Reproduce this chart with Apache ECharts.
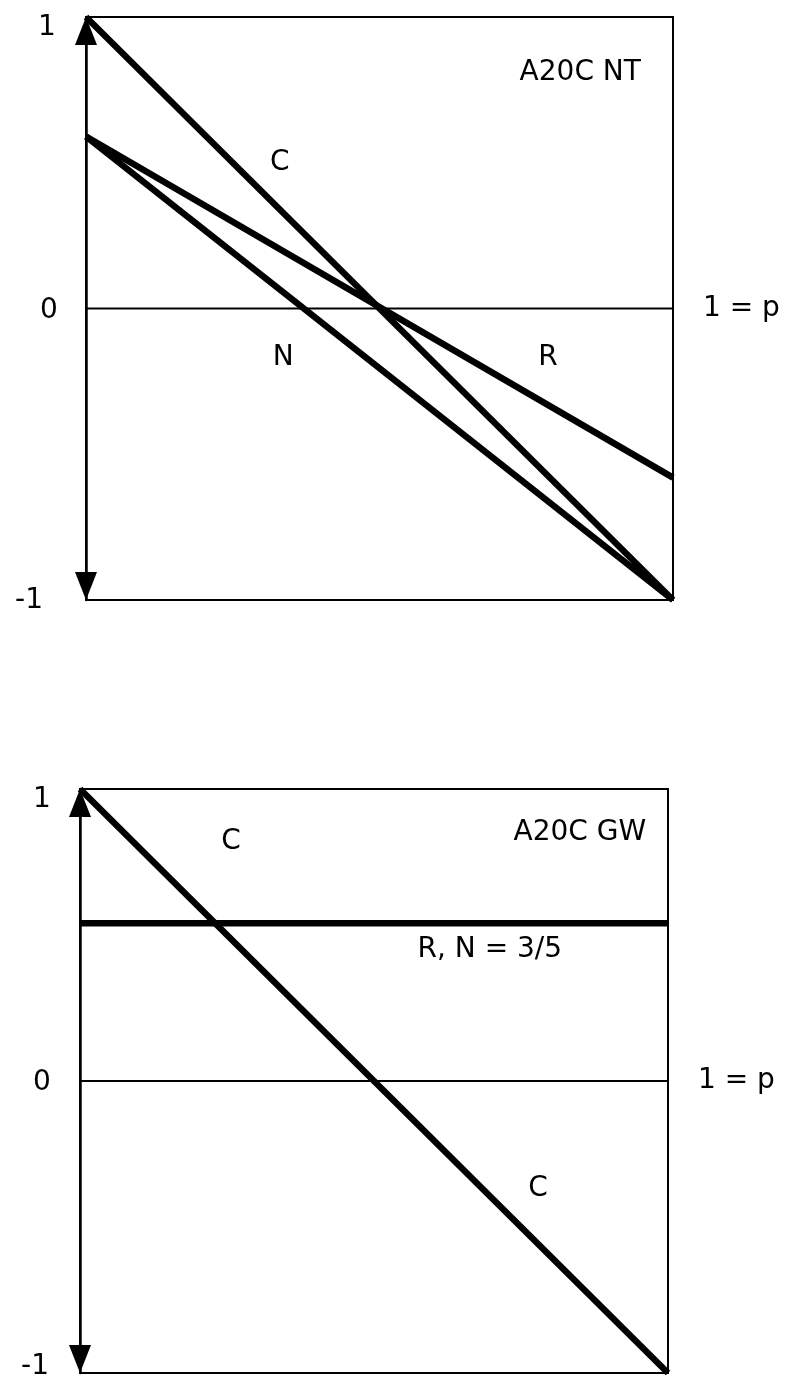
<!DOCTYPE html>
<html><head><meta charset="utf-8">
<script src="https://cdn.jsdelivr.net/npm/echarts@6/dist/echarts.min.js"></script>
<style>html,body{margin:0;padding:0;background:#fff}#c{width:786px;height:1382px}</style>
</head><body><div id="c"></div>
<script>
// Data (p from 0 to 1)
const pEnds = [0, 1];
const ntC = [1, -1];
const ntN = [0.59, -1];
const ntR = [0.59, -0.58];
const gwC = [1, -1];
const gwRN = [0.54, 0.54];
const yTicks = [1, 0, -1];
const yTickLabels = ['1', '0', '-1'];
const ntLabels = [
  {name: 'C', p: 0.33, v: 0.50},
  {name: 'N', p: 0.336, v: -0.17},
  {name: 'R', p: 0.787, v: -0.17},
  {name: 'A20C NT', p: 0.842, v: 0.81}
];
const gwLabels = [
  {name: 'C', p: 0.257, v: 0.82},
  {name: 'A20C GW', p: 0.85, v: 0.85},
  {name: 'R, N = 3/5', p: 0.697, v: 0.45},
  {name: 'C', p: 0.779, v: -0.37}
];
const xEndLabel = '1 = p';

const FONT = 'DejaVu Sans';
const FS = 28;
// pixel offsets of the tick labels from the axis (styling only)
const tickOffsets = [
  [[-39, 11], [-37, 2], [-57, 1]],
  [[-38, 11], [-38, 2], [-45, -6]]
];

function pts(ys) { return pEnds.map((p, i) => [p, ys[i]]); }

function grid(left, top, width, height) {
  return {left, top, width, height, show: true, borderColor: '#000', borderWidth: 2, backgroundColor: 'transparent'};
}
function xAx(gi) {
  return {type: 'value', gridIndex: gi, min: 0, max: 1, show: false};
}
function yAx(gi) {
  return {
    type: 'value', gridIndex: gi, min: -1, max: 1, interval: 1,
    splitLine: {show: false},
    axisTick: {show: false},
    axisLabel: {show: false},
    axisLine: {show: true, onZero: false, lineStyle: {color: '#000', width: 2.5},
      symbol: ['triangle', 'triangle'], symbolSize: [22, 28], symbolOffset: [14, -14]}
  };
}
function thick(gi, ys) {
  return {type: 'line', xAxisIndex: gi, yAxisIndex: gi, data: pts(ys), symbol: 'none', silent: true,
    lineStyle: {color: '#000', width: 6.5}, animation: false};
}
function zeroLine(gi) {
  return {type: 'line', xAxisIndex: gi, yAxisIndex: gi, data: pts([0, 0]), symbol: 'none', silent: true,
    lineStyle: {color: '#000', width: 2}, animation: false,
    endLabel: {show: true, formatter: xEndLabel, distance: 30, color: '#000', fontFamily: FONT, fontSize: FS}};
}
const labelStyle = {show: true, position: 'inside', opacity: 1, formatter: p => p.name, color: '#000',
  textBorderWidth: 0, fontFamily: FONT, fontSize: FS};
function texts(gi, arr) {
  return {type: 'scatter', xAxisIndex: gi, yAxisIndex: gi, symbolSize: 0, silent: true, animation: false,
    clip: false, itemStyle: {opacity: 1, color: '#000'},
    data: arr.map(d => ({name: d.name, value: [d.p, d.v]})),
    label: labelStyle};
}
function tickTexts(gi) {
  return {type: 'scatter', xAxisIndex: gi, yAxisIndex: gi, symbolSize: 0, silent: true, animation: false,
    clip: false, itemStyle: {opacity: 1, color: '#000'},
    data: yTicks.map((t, i) => ({name: yTickLabels[i], value: [0, t],
      label: {offset: tickOffsets[gi][i]}})),
    label: labelStyle};
}

const chart = echarts.init(document.getElementById('c'), null, {renderer: 'canvas'});
chart.setOption({
  backgroundColor: '#fff',
  animation: false,
  grid: [grid(86, 17, 587, 583), grid(80, 789, 588, 584)],
  xAxis: [xAx(0), xAx(1)],
  yAxis: [yAx(0), yAx(1)],
  series: [
    zeroLine(0),
    thick(0, ntC), thick(0, ntN), thick(0, ntR),
    texts(0, ntLabels), tickTexts(0),
    zeroLine(1),
    thick(1, gwC), thick(1, gwRN),
    texts(1, gwLabels), tickTexts(1)
  ]
});
</script></body></html>
